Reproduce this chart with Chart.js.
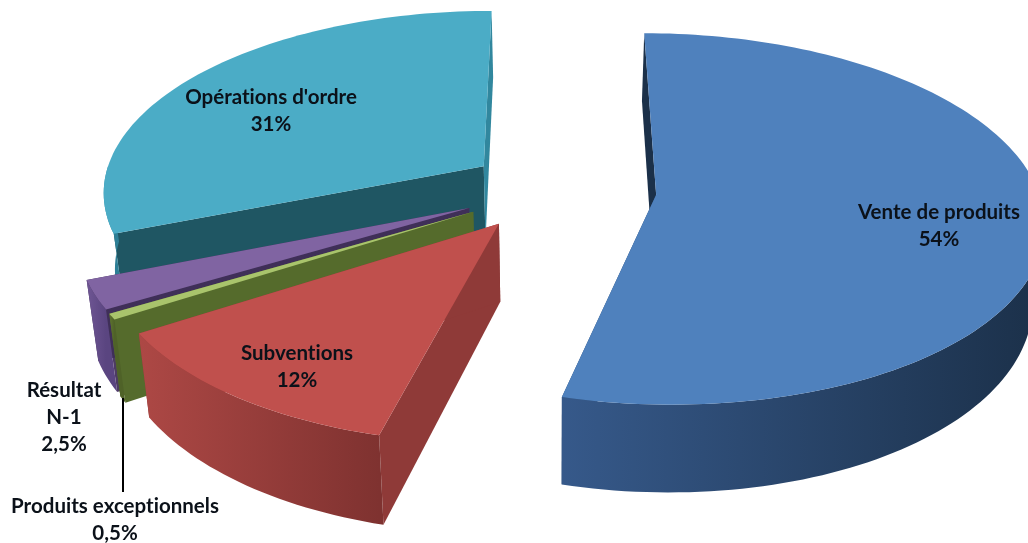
<!DOCTYPE html>
<html>
<head>
<meta charset="utf-8">
<title>Recettes</title>
<script src="https://cdn.jsdelivr.net/npm/chart.js@4"></script>
<style>
  html, body { margin: 0; padding: 0; background: #fff; }
  canvas { display: block; }
</style>
</head>
<body>
<canvas id="my-chart" width="1028" height="543"></canvas>
<script>
let categories = ["Vente de produits", "Subventions", "Produits exceptionnels", "Résultat N-1", "Opérations d'ordre"];
let shares = [54, 12, 0.5, 2.5, 31];

let topColors = ["#4f81bd", "#c0504d", "#a9c46c", "#8064a2", "#4bacc6"];
let startSide = ["#1b3049", "#8f3a38", "#556b2c", "#4d3b62", "#1f5663"];
let endSide = ["#2c4d75", "#8f3a38", "#556b2c", "#3f2f58", "#31879e"];
let wallFrom = ["#36598a", "#ad4845", "#5f7530", "#6f5694", "#3f97ae"];
let wallTo = ["#1b3049", "#7f3230", "#4f6228", "#5a4580", "#2d7f96"];
let explode = [45, 39, 40, 40, 37];

// label lines and anchor of each block, in page pixels
let labelLines = [["Vente de produits"], ["Subventions"], ["Produits exceptionnels"], ["Résultat", "N-1"], ["Opérations d'ordre"]];
let labelAnchors = [[939, 212], [297, 353], [115, 506], [64, 390], [271, 97]];

const view = { sx: 2.3, sy: 1.09, persp: 0.13, depth: 76, shrink: 0.025 };
const paintOrder = [4, 3, 2, 1, 0];

function project(el, u, v, z) {
  const w = 1 / (1 - view.persp * v);
  return {
    x: el.x + el.outerRadius * view.sx * u * w * (1 - z * view.shrink),
    y: el.y + el.outerRadius * view.sy * v * w + z * view.depth * w,
  };
}

function drawSlice(ctx, el, i) {
  const props = el.getProps(["x", "y", "startAngle", "endAngle", "outerRadius"], true);
  const R = props.outerRadius;
  const mid = (props.startAngle + props.endAngle) / 2;
  const off = el.options.offset / R;
  const ou = Math.cos(mid) * off;
  const ov = Math.sin(mid) * off;

  const steps = Math.max(4, Math.ceil((props.endAngle - props.startAngle) * 40));
  const rim = [];
  const nearRim = [];
  for (let s = 0; s <= steps; s++) {
    const a = props.startAngle + (props.endAngle - props.startAngle) * s / steps;
    const q = [ou + Math.cos(a), ov + Math.sin(a)];
    rim.push(q);
    if (Math.sin(a) >= 0) nearRim.push(q);
  }
  const p = (q, z) => project(props, q[0], q[1], z);
  const apex = [ou, ov];

  const poly = (pts, fill) => {
    ctx.beginPath();
    pts.forEach((pt, n) => (n ? ctx.lineTo(pt.x, pt.y) : ctx.moveTo(pt.x, pt.y)));
    ctx.closePath();
    ctx.fillStyle = fill;
    ctx.fill();
  };

  // the two flat cut walls
  poly([p(apex, 0), p(rim[0], 0), p(rim[0], 1), p(apex, 1)], startSide[i]);
  poly([p(apex, 0), p(rim[steps], 0), p(rim[steps], 1), p(apex, 1)], endSide[i]);

  // outer curved wall, only the part facing us, lighter on its left
  const xs = nearRim.map((q) => p(q, 0).x);
  const grad = ctx.createLinearGradient(Math.min(...xs), 0, Math.max(...xs), 0);
  grad.addColorStop(0, wallFrom[i]);
  grad.addColorStop(1, wallTo[i]);
  poly([...nearRim.map((q) => p(q, 0)), ...nearRim.slice().reverse().map((q) => p(q, 1))], grad);

  // top face
  poly([p(apex, 0), ...rim.map((q) => p(q, 0))], topColors[i]);
}

const pie3d = {
  id: "pie3d",
  beforeDatasetsDraw(chart) {
    const { ctx } = chart;
    const arcs = chart.getDatasetMeta(0).data;
    ctx.save();
    paintOrder.forEach((i) => drawSlice(ctx, arcs[i], i));
    ctx.restore();
    return false;
  },
  afterDraw(chart) {
    const { ctx } = chart;
    ctx.save();
    // leader line of the small slice
    ctx.strokeStyle = "#000";
    ctx.lineWidth = 2;
    ctx.beginPath();
    ctx.moveTo(123, 398);
    ctx.lineTo(123, 492);
    ctx.stroke();

    ctx.font = "bold 20.5px Lato";
    ctx.letterSpacing = "0.01px";
    ctx.fillStyle = "#0b1119";
    ctx.textAlign = "center";
    ctx.textBaseline = "middle";
    shares.forEach((v, i) => {
      const lines = labelLines[i].concat(String(v).replace(".", ",") + "%");
      lines.forEach((t, n) => ctx.fillText(t, labelAnchors[i][0], labelAnchors[i][1] + n * 27));
    });
    ctx.restore();
  },
};

new Chart("my-chart", {
  type: "pie",
  plugins: [pie3d],
  data: {
    labels: categories,
    datasets: [
      {
        data: shares,
        backgroundColor: topColors,
        borderWidth: 0,
        offset: explode,
      },
    ],
  },
  options: {
    responsive: false,
    animation: false,
    layout: { padding: { left: 78, bottom: 166 } },
    plugins: {
      legend: { display: false },
      tooltip: { enabled: false },
    },
  },
});
</script>
</body>
</html>
